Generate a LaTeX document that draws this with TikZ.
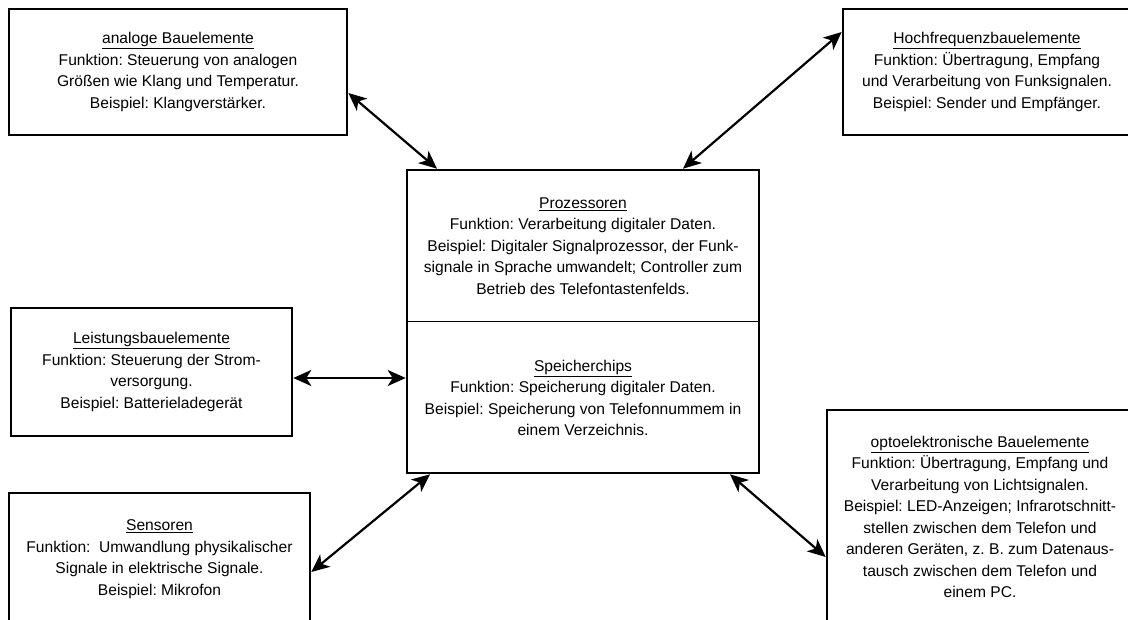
\documentclass[tikz,border=0pt]{standalone}
\usepackage{fontspec}
\setmainfont{Liberation Sans}
\frenchspacing
\usetikzlibrary{arrows.meta}
\tikzset{
  box/.style={draw, line width=2.6pt, align=center, inner sep=0pt,
    font=\fontsize{15.6}{21.5}\selectfont},
  txt/.style={align=center, inner sep=0pt, font=\fontsize{15.6}{21.5}\selectfont},
  link/.style={line width=2.2pt, {Stealth[length=18pt,width=16pt,inset=5pt]}-{Stealth[length=18pt,width=16pt,inset=5pt]}}
}
\begin{document}
\begin{tikzpicture}[x=1pt,y=-1pt]
\useasboundingbox (0,0) rectangle (1128,619);
\fill[white] (0,0) rectangle (1128,619);

% top-left
\node[box, minimum width=338pt, minimum height=126pt] (ana) at (178,72)
 {\underline{analoge Bauelemente}\\Funktion: Steuerung von analogen\\Größen wie Klang und Temperatur.\\Beispiel: Klangverstärker.};

% top-right (open on the right)
\node[box, minimum width=288pt, minimum height=126pt] (hf) at (987,72)
 {\underline{Hochfrequenzbauelemente}\\Funktion: Übertragung, Empfang\\und Verarbeitung von Funksignalen.\\Beispiel: Sender und Empfänger.};

% center
\node[draw, line width=2.6pt, minimum width=352pt, minimum height=303pt, inner sep=0pt] (cen) at (583,321.5) {};
\draw[line width=0.9pt] (cen.west) -- (cen.east);
\node[txt] (proz) at (583,246)
 {\underline{Prozessoren}\\Funktion: Verarbeitung digitaler Daten.\\Beispiel: Digitaler Signalprozessor, der Funk-\\signale in Sprache umwandelt; Controller zum\\Betrieb des Telefontastenfelds.};
\node[txt] (speich) at (583,398)
 {\underline{Speicherchips}\\Funktion: Speicherung digitaler Daten.\\Beispiel: Speicherung von Telefonnummem in\\einem Verzeichnis.};

% left middle
\node[box, minimum width=281pt, minimum height=128pt] (leist) at (151.5,372)
 {\underline{Leistungsbauelemente}\\Funktion: Steuerung der Strom-\\versorgung.\\Beispiel: Batterieladegerät};

% bottom-left (open at bottom)
\node[box, minimum width=301pt, minimum height=132pt] (sens) at (159.5,559)
 {\underline{Sensoren}\\Funktion:\ \ Umwandlung physikalischer\\Signale in elektrische Signale.\\Beispiel: Mikrofon};

% bottom-right (open)
\node[box, minimum width=306pt, minimum height=214pt] (opto) at (980,517)
 {\underline{optoelektronische Bauelemente}\\Funktion: Übertragung, Empfang und\\Verarbeitung von Lichtsignalen.\\Beispiel: LED-Anzeigen; Infrarotschnitt-\\stellen zwischen dem Telefon und\\anderen Geräten, z. B. zum Datenaus-\\tausch zwischen dem Telefon und\\einem PC.};

% connectors
\draw[link] ([yshift=-21pt]ana.east) -- ([xshift=-146pt]cen.north);
\draw[link] ([xshift=100pt]cen.north) -- ([yshift=40pt]hf.west);
\draw[link] ([yshift=-6pt]leist.east) -- ([yshift=-56.5pt]cen.west);
\draw[link] ([yshift=-13pt]sens.east) -- ([xshift=-153pt]cen.south);
\draw[link] ([xshift=147pt]cen.south) -- ([yshift=-40pt]opto.west);
\end{tikzpicture}
\end{document}
